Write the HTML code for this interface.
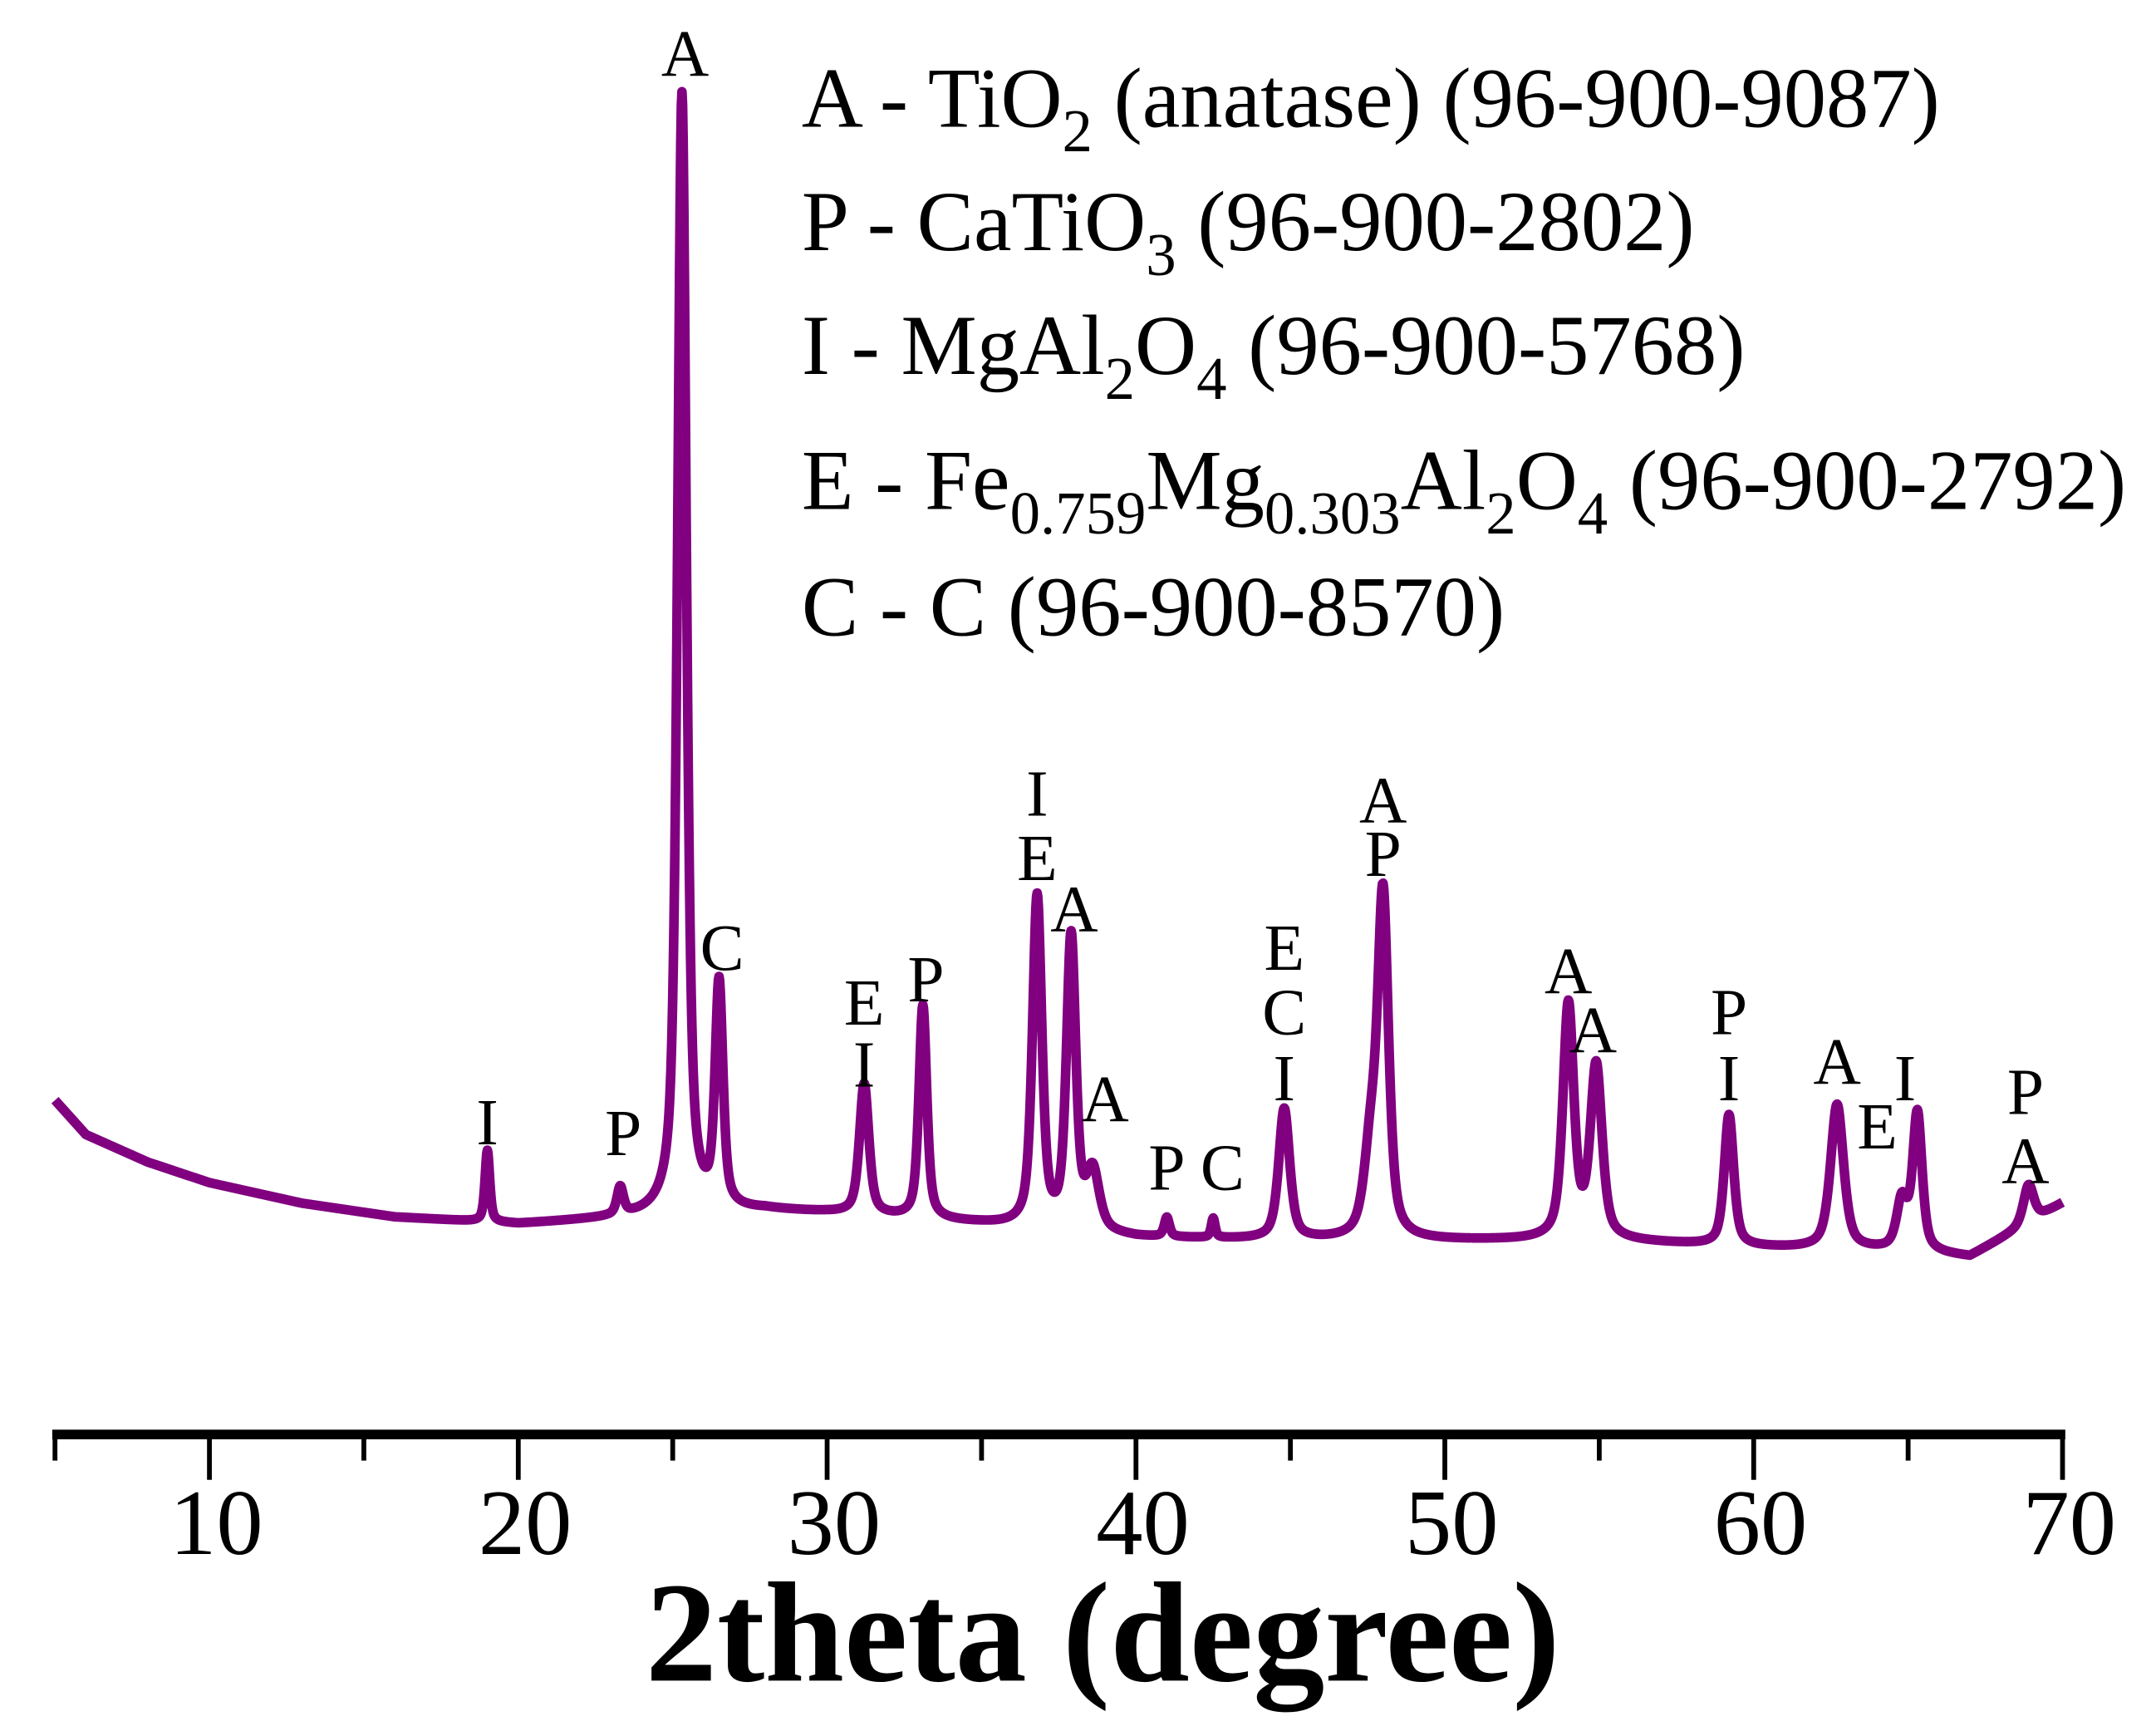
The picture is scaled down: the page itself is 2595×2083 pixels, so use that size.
<!DOCTYPE html>
<html><head><meta charset="utf-8"><style>
html,body{margin:0;padding:0;background:#fff;}
svg{display:block;}
text{font-family:"Liberation Serif",serif;fill:#000;}
</style></head><body>
<svg id="chart" width="2595" height="2083" viewBox="0 0 1568 1258.6" xmlns="http://www.w3.org/2000/svg">
<g font-size="62">
<text x="583" y="92">A - TiO<tspan font-size="44" dy="18">2</tspan><tspan dy="-18"> (anatase) (96-900-9087)</tspan></text>
<text x="583" y="182">P - CaTiO<tspan font-size="44" dy="18">3</tspan><tspan dy="-18"> (96-900-2802)</tspan></text>
<text x="583" y="272">I - MgAl<tspan font-size="44" dy="18">2</tspan><tspan dy="-18">O</tspan><tspan font-size="44" dy="18">4</tspan><tspan dy="-18"> (96-900-5768)</tspan></text>
<text x="583" y="370">E - Fe<tspan font-size="44" dy="18">0.759</tspan><tspan dy="-18">Mg</tspan><tspan font-size="44" dy="18">0.303</tspan><tspan dy="-18">Al</tspan><tspan font-size="44" dy="18">2</tspan><tspan dy="-18">O</tspan><tspan font-size="44" dy="18">4</tspan><tspan dy="-18"> (96-900-2792)</tspan></text>
<text x="583" y="462">C - C (96-900-8570)</text>
</g>
<g id="plot"></g>
<g id="labels" font-size="48" text-anchor="middle"></g>
<g id="axis"></g>
<text x="802" y="1222" font-size="104" font-weight="bold" text-anchor="middle">2theta (degree)</text>
</svg>
<script>
// ---- data ----
const bgTheta = [5,6,8,10,13,16,20,24,28,30,35,40,45,50,55,60,65,67,68.5,70];
const bgInt   = [115,90,70,55,40,30,25,30,35,33,25,15,13,13,13,8,5,1,20,40];
const peakPos = [19.0,23.3,25.3,26.5,31.2,33.1,36.8,37.9,38.6,41.0,42.5,44.8,47.6,48.0,54.0,54.9,59.2,62.7,64.8,65.3,68.9];
const peakH   = [52,20,815,162,95,155,240,212,42,14,14,95,60,245,170,125,95,105,35,100,28];
const peakW   = [0.18,0.25,0.34,0.3,0.36,0.3,0.36,0.36,0.5,0.2,0.15,0.42,0.5,0.42,0.42,0.45,0.36,0.5,0.4,0.36,0.4];
const labelText  = ["I","P","A","C","E","I","P","I","E","A","A","P","C","E","C","I","A","P","A","A","P","I","A","E","I","P","A"];
const labelTheta = [19.0,23.4,25.4,26.6,31.2,31.2,33.2,36.8,36.8,38.0,39.0,41.0,42.8,44.8,44.8,44.8,48.0,48.0,54.0,54.8,59.2,59.2,62.7,64.0,64.9,68.8,68.8];
const labelInt   = [83,75,860,210,170,125,187,322,275,238,100,50,50,210,163,115,317,278,193,150,163,115,127,80,115,105,55];
const xTicks = [10,20,30,40,50,60,70];
const xMinor = [5,15,25,35,45,55,65];

// ---- scales ----
const x = t => 40 + (t - 5) * 22.462;
const y = v => 915 - v;
const NS = "http://www.w3.org/2000/svg";

function bg(t){
  for(let i=0;i<bgTheta.length-1;i++){
    if(t<=bgTheta[i+1]){const f=(t-bgTheta[i])/(bgTheta[i+1]-bgTheta[i]);return bgInt[i]+f*(bgInt[i+1]-bgInt[i]);}
  }
  return bgInt[bgInt.length-1];
}
function intensity(t){
  let s=bg(t);
  for(let i=0;i<peakPos.length;i++){
    const d=(t-peakPos[i])/(peakW[i]/2);
    s+=peakH[i]*(0.6/(1+d*d)+0.4*Math.exp(-0.693*d*d));
  }
  return s;
}
let d="";
for(let t=5;t<=70.0001;t+=0.02){
  d+=(d?"L":"M")+x(t).toFixed(2)+","+y(intensity(t)).toFixed(2);
}
const path=document.createElementNS(NS,"path");
path.setAttribute("d",d);
path.setAttribute("fill","none");
path.setAttribute("stroke","#800080");
path.setAttribute("stroke-width","7");
path.setAttribute("stroke-linejoin","round");


document.getElementById("plot").appendChild(path);

const lg=document.getElementById("labels");
labelText.forEach((s,i)=>{
  const tx=document.createElementNS(NS,"text");
  tx.setAttribute("x",x(labelTheta[i]));
  tx.setAttribute("y",y(labelInt[i]));
  tx.textContent=s;
  
  
  lg.appendChild(tx);
});

const ax=document.getElementById("axis");
const line=document.createElementNS(NS,"line");
line.setAttribute("x1",x(5)-2);line.setAttribute("x2",x(70)+2);
line.setAttribute("y1",1043);line.setAttribute("y2",1043);
line.setAttribute("stroke","#000");line.setAttribute("stroke-width","7");


ax.appendChild(line);
xTicks.forEach(t=>{
  const tk=document.createElementNS(NS,"line");
  tk.setAttribute("x1",x(t));tk.setAttribute("x2",x(t));
  tk.setAttribute("y1",1043);tk.setAttribute("y2",1076);
  tk.setAttribute("stroke","#000");tk.setAttribute("stroke-width","3.5");
  
  
  ax.appendChild(tk);
  const lb=document.createElementNS(NS,"text");
  lb.setAttribute("x",x(t)+5);lb.setAttribute("y",1130);
  lb.setAttribute("font-size","68");lb.setAttribute("text-anchor","middle");
  lb.textContent=t;
  
  
  ax.appendChild(lb);
});
xMinor.forEach(t=>{
  const tk=document.createElementNS(NS,"line");
  tk.setAttribute("x1",x(t));tk.setAttribute("x2",x(t));
  tk.setAttribute("y1",1043);tk.setAttribute("y2",1062);
  tk.setAttribute("stroke","#000");tk.setAttribute("stroke-width","3.5");
  
  
  ax.appendChild(tk);
});
</script>
</body></html>
